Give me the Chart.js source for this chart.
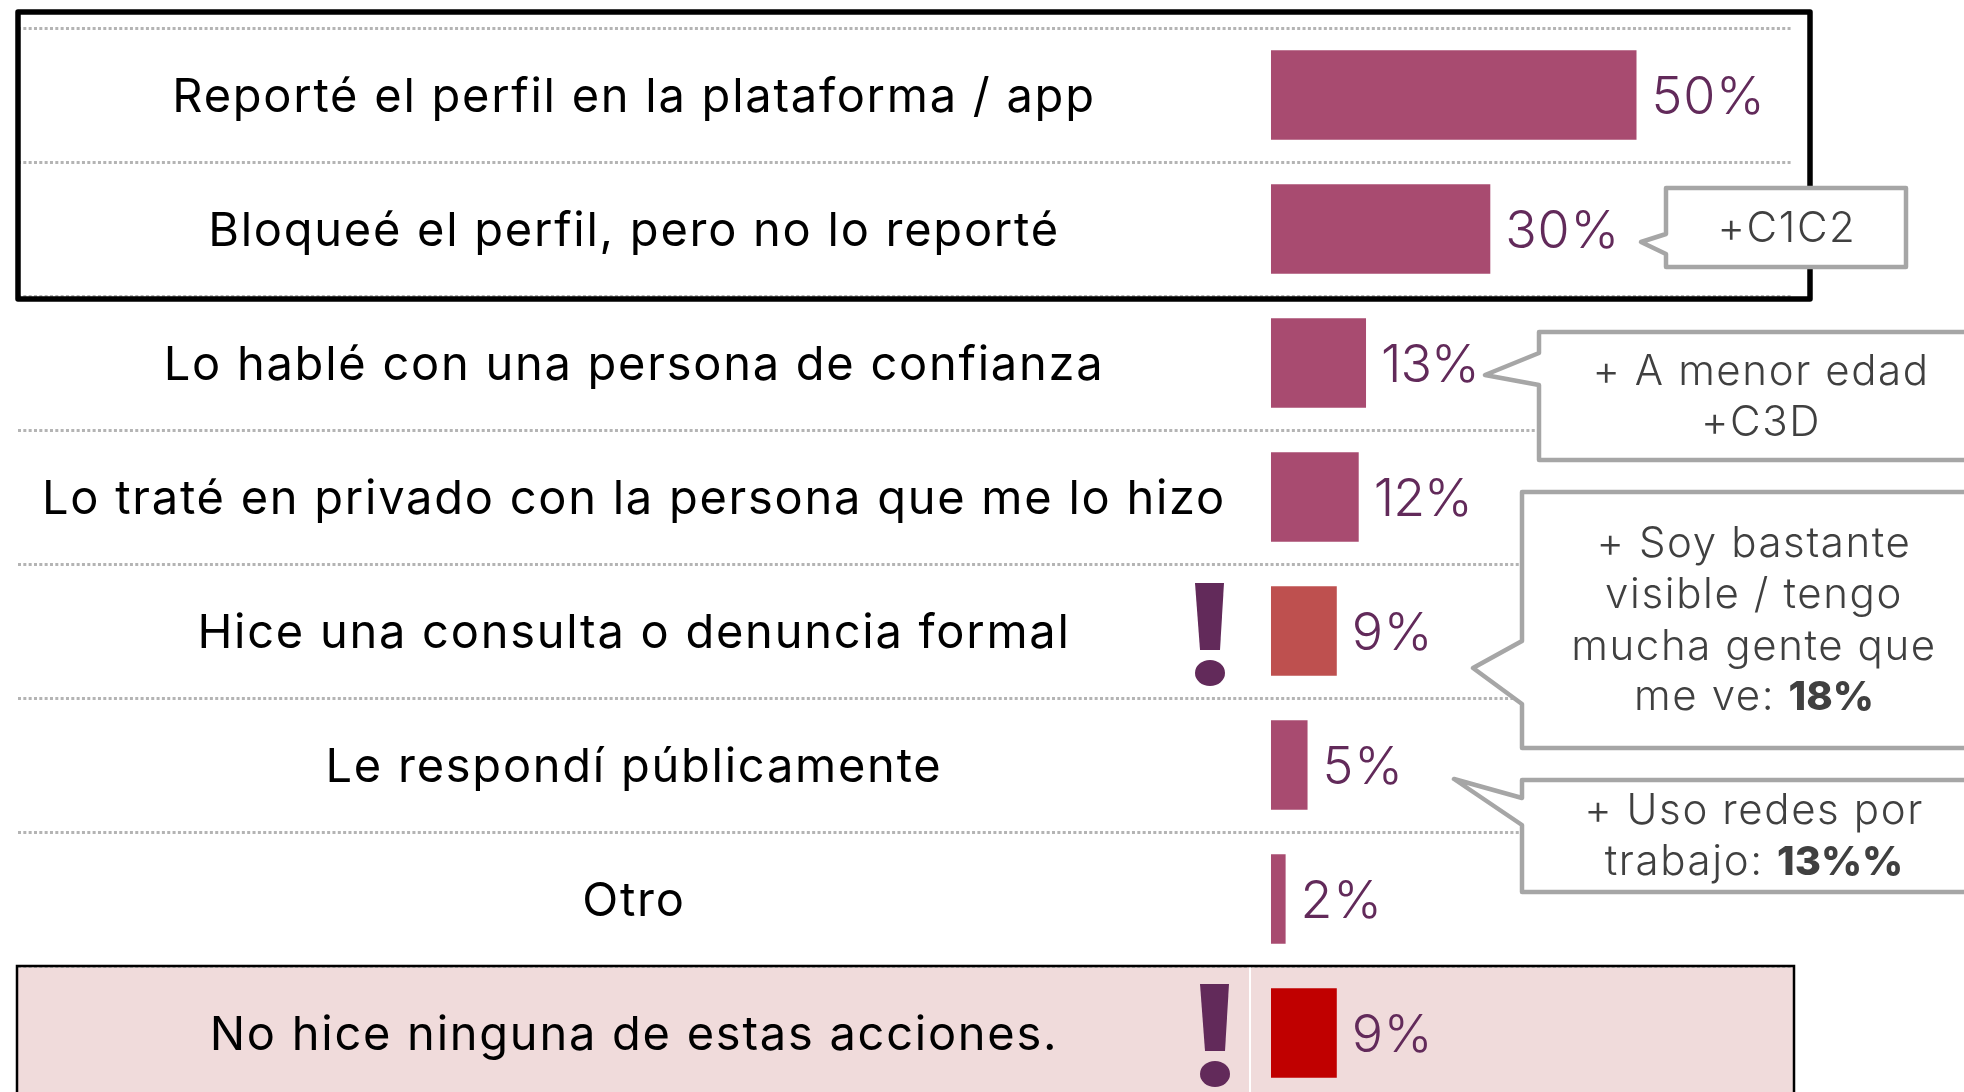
<!DOCTYPE html>
<html>
<head>
<meta charset="utf-8">
<script src="https://cdn.jsdelivr.net/npm/chart.js@4"></script>
<style>
html, body { margin: 0; padding: 0; background: #fff; width: 1964px; height: 1092px; overflow: hidden; }
canvas { position: absolute; left: 0; top: 0; }
</style>
</head>
<body>
<canvas id="chart" width="1964" height="1130"></canvas>
<script>
const categories = [
    'Reporté el perfil en la plataforma / app',
    'Bloqueé el perfil, pero no lo reporté',
    'Lo hablé con una persona de confianza',
    'Lo traté en privado con la persona que me lo hizo',
    'Hice una consulta o denuncia formal',
    'Le respondí públicamente',
    'Otro',
    'No hice ninguna de estas acciones.'
];
const values = [50, 30, 13, 12, 9, 5, 2, 9];
const barColors = ['#a84b70', '#a84b70', '#a84b70', '#a84b70', '#be504f', '#a84b70', '#a84b70', '#c00000'];
const alertRows = [4, 7];

const FONT = 'Inter, sans-serif';

// text lines are [text, bold] pieces, one array per line
const callouts = [
    { box: [1666, 188, 1906, 267], tail: [[1666, 234], [1641, 242], [1666, 254]],
      cx: 1787, baselines: [242], lines: [[['+C1C2', false]]] },
    { box: [1539, 332, 1990, 460], tail: [[1539, 353], [1485, 375], [1539, 385]],
      cx: 1761, baselines: [385, 436], lines: [[['+ A menor edad', false]], [['+C3D', false]]] },
    { box: [1522, 492, 1990, 748], tail: [[1522, 641], [1473, 668], [1522, 704]],
      cx: 1754, baselines: [557, 608, 660, 710],
      lines: [[['+ Soy bastante', false]], [['visible / tengo', false]], [['mucha gente que', false]], [['me ve: ', false], ['18%', true]]] },
    { box: [1522, 780, 1990, 892], tail: [[1522, 798], [1454, 779], [1522, 825]],
      cx: 1754, baselines: [824, 875],
      lines: [[['+ Uso redes por', false]], [['trabajo: ', false], ['13%%', true]]] }
];

function setPiece(ctx, bold) {
    ctx.font = bold ? '800 40px ' + FONT : '300 42px ' + FONT;
    ctx.letterSpacing = bold ? '0px' : '1.6px';
}

function drawCallout(ctx, c) {
    const [l, t, r, b] = c.box;
    ctx.beginPath();
    ctx.moveTo(l, t);
    ctx.lineTo(r, t);
    ctx.lineTo(r, b);
    ctx.lineTo(l, b);
    c.tail.slice().reverse().forEach(p => ctx.lineTo(p[0], p[1]));
    ctx.closePath();
    ctx.fillStyle = '#fff';
    ctx.fill();
    ctx.strokeStyle = '#a6a6a6';
    ctx.lineWidth = 4.5;
    ctx.lineJoin = 'round';
    ctx.stroke();

    ctx.fillStyle = '#404040';
    ctx.textBaseline = 'alphabetic';
    ctx.textAlign = 'left';
    c.lines.forEach((pieces, i) => {
        let w = 0;
        pieces.forEach(p => {
            setPiece(ctx, p[1]);
            w += ctx.measureText(p[0]).width;
        });
        let x = c.cx - w / 2;
        pieces.forEach(p => {
            setPiece(ctx, p[1]);
            ctx.fillText(p[0], x, c.baselines[i]);
            x += ctx.measureText(p[0]).width;
        });
    });
}

function drawAlert(ctx, x, y) {
    ctx.fillStyle = '#622a5a';
    ctx.beginPath();
    ctx.moveTo(x - 15, y - 49);
    ctx.lineTo(x + 14, y - 49);
    ctx.lineTo(x + 10, y + 18);
    ctx.lineTo(x - 10, y + 18);
    ctx.closePath();
    ctx.fill();
    ctx.beginPath();
    ctx.ellipse(x, y + 41, 15, 13, 0, 0, Math.PI * 2);
    ctx.fill();
}

const decorations = {
    id: 'decorations',
    beforeDraw(chart) {
        const ctx = chart.ctx;
        ctx.save();
        ctx.fillStyle = '#fff';
        ctx.fillRect(0, 0, chart.width, chart.height);
        ctx.fillStyle = '#f0dbdb';
        ctx.fillRect(17, 966, 1777, 160);
        ctx.restore();
    },
    afterDatasetsDraw(chart) {
        const ctx = chart.ctx;
        const bars = chart.getDatasetMeta(0).data;
        const yScale = chart.scales.y;
        ctx.save();

        // last row frame
        ctx.strokeStyle = '#fff';
        ctx.lineWidth = 2;
        ctx.beginPath();
        ctx.moveTo(1250, 967);
        ctx.lineTo(1250, 1126);
        ctx.stroke();
        ctx.strokeStyle = '#000';
        ctx.lineWidth = 2.5;
        ctx.strokeRect(17, 966, 1777, 160);

        // top two rows frame
        ctx.lineWidth = 5.5;
        ctx.lineJoin = 'round';
        ctx.strokeRect(18, 12, 1792, 287);

        // category labels, centred in the left column
        ctx.fillStyle = '#000';
        ctx.font = '400 47px ' + FONT;
        ctx.letterSpacing = '1.75px';
        ctx.textAlign = 'center';
        ctx.textBaseline = 'alphabetic';
        categories.forEach((label, i) => {
            ctx.fillText(label, 634, yScale.getPixelForValue(i) + 17);
        });

        // value labels
        ctx.fillStyle = '#622a5a';
        ctx.font = '300 52px ' + FONT;
        ctx.textAlign = 'left';
        ctx.textBaseline = 'middle';
        bars.forEach((bar, i) => {
            const text = values[i] + '%';
            ctx.letterSpacing = text.includes('1') ? '-1px' : '0.8px';
            ctx.fillText(text, bar.x + 15, bar.y + 3);
        });

        alertRows.forEach(i => {
            const x = i === 7 ? 1215 : 1210;
            drawAlert(ctx, x, yScale.getPixelForValue(i) + (i === 7 ? 0 : 1));
        });

        callouts.forEach(c => drawCallout(ctx, c));
        ctx.restore();
    }
};

new Chart(document.getElementById('chart'), {
    type: 'bar',
    data: {
        labels: categories,
        datasets: [{
            data: values,
            backgroundColor: barColors,
            barPercentage: 0.667,
            categoryPercentage: 1
        }]
    },
    plugins: [decorations],
    options: {
        indexAxis: 'y',
        responsive: false,
        animation: false,
        layout: { padding: { left: 18, right: 172, top: 28, bottom: 30 } },
        plugins: { legend: { display: false }, tooltip: { enabled: false } },
        scales: {
            x: { display: false, min: -171.4, max: 71.27 },
            y: {
                afterFit(scale) {
                    scale.width = 0;
                },
                border: { display: false, dash: [3, 2.33] },
                grid: { offset: true, drawTicks: false, color: '#b4b4b4', lineWidth: 3 },
                ticks: { display: false }
            }
        }
    }
});
</script>
</body>
</html>
